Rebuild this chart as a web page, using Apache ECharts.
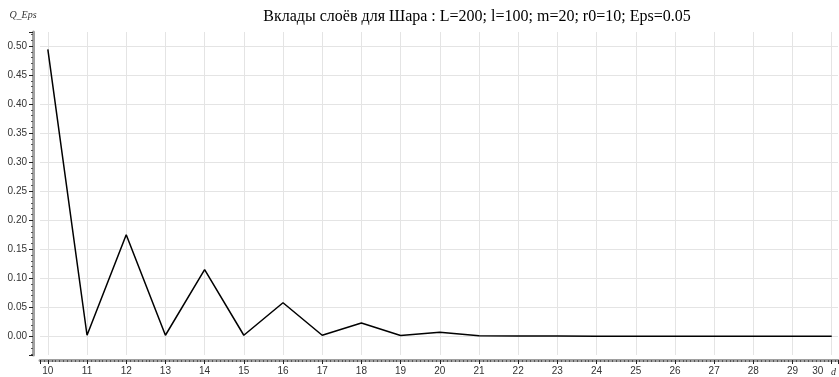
<!DOCTYPE html>
<html>
<head>
<meta charset="utf-8">
<script src="https://cdn.jsdelivr.net/npm/echarts@6/dist/echarts.min.js"></script>
<style>html,body{margin:0;padding:0;background:#fff;}#c{width:839px;height:377px;}</style>
</head>
<body>
<div id="c"></div>
<script>
var titleText = 'Вклады слоёв для Шара : L=200; l=100; m=20; r0=10; Eps=0.05';
var xName = 'd';
var yName = 'Q_Eps';
var xValues = [10, 11, 12, 13, 14, 15, 16, 17, 18, 19, 20, 21, 22, 23, 24, 25, 26, 27, 28, 29, 30];
var qValues = [0.494, 0.002, 0.175, 0.002, 0.115, 0.002, 0.058, 0.002, 0.023, 0.0015, 0.007, 0.001, 0.0008, 0.0005, 0.0004, 0.0003, 0.0003, 0.0002, 0.0002, 0.0002, 0.0002];

var chart = echarts.init(document.getElementById('c'), null, {renderer: 'canvas'});
function fmtY(v) {
  var r = Math.round(v * 100);
  if (Math.abs(v * 100 - r) > 1e-6 || r % 5 !== 0) return '';
  return v.toFixed(2);
}
function fmtX(v) {
  if (Math.abs(v - Math.round(v)) > 1e-6) return '';
  var s = String(Math.round(v));
  if (Math.round(v) === 30) return '{last|' + s + '}';
  return s;
}
chart.setOption({
  animation: false,
  backgroundColor: '#fff',
  title: {
    text: titleText,
    left: 472, textAlign: 'center', top: 4,
    textStyle: {fontFamily: 'Liberation Serif', fontSize: 16, fontWeight: 'normal', color: '#000'}
  },
  grid: {left: 40, top: 32, right: 1, bottom: 21, containLabel: false},
  xAxis: {
    type: 'value', min: 9.8, max: 30.16, splitNumber: 20,
    name: xName, nameLocation: 'end', nameGap: -7,
    nameTextStyle: {fontFamily: 'Liberation Serif', fontStyle: 'italic', fontSize: 10, color: '#333', align: 'left', verticalAlign: 'top', padding: [7, 0, 0, 0]},
    offset: 5,
    axisLine: {show: true, onZero: false, lineStyle: {color: '#a0a0a0', width: 3}},
    axisTick: {show: true, length: 4, lineStyle: {color: '#222', width: 1}},
    minorTick: {show: true, splitNumber: 10, length: 2, lineStyle: {color: '#555', width: 1}},
    axisLabel: {formatter: fmtX, fontFamily: 'Liberation Sans', fontSize: 10, color: '#333', margin: 6, showMinLabel: false, showMaxLabel: false,
      rich: {last: {fontFamily: 'Liberation Sans', fontSize: 10, color: '#333', padding: [0, 28, 0, 0]}}},
    splitLine: {show: true, showMinLine: false, showMaxLine: false, lineStyle: {color: '#e4e4e4', width: 1}}
  },
  yAxis: {
    type: 'value', min: -0.032, max: 0.524, splitNumber: 11,
    name: yName, nameLocation: 'end', nameGap: 12,
    nameTextStyle: {fontFamily: 'Liberation Serif', fontStyle: 'italic', fontSize: 10, color: '#333', align: 'center', padding: [0, 20, 0, 0]},
    offset: 7,
    axisLine: {show: true, onZero: false, lineStyle: {color: '#a0a0a0', width: 3}},
    axisTick: {show: true, length: 4, lineStyle: {color: '#222', width: 1}},
    minorTick: {show: true, splitNumber: 5, length: 2, lineStyle: {color: '#555', width: 1}},
    axisLabel: {formatter: fmtY, fontFamily: 'Liberation Sans', fontSize: 10, color: '#333', margin: 6, showMinLabel: false, showMaxLabel: false},
    splitLine: {show: true, showMinLine: false, showMaxLine: false, lineStyle: {color: '#e4e4e4', width: 1}}
  },
  series: [{
    type: 'line',
    data: xValues.map(function (x, i) { return [x, qValues[i]]; }),
    symbol: 'none',
    lineStyle: {color: '#000', width: 1.5},
    clip: false
  }]
});
</script>
</body>
</html>
